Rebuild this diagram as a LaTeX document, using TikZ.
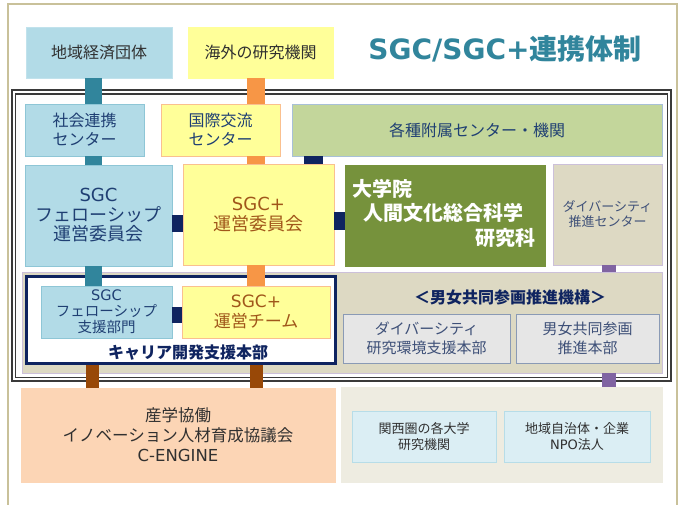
\documentclass[tikz,border=0pt]{standalone}
\usepackage{fontspec}
\setmainfont{Noto Sans CJK JP}
\newfontfamily\lat{DejaVu Sans}
\definecolor{tanborder}{HTML}{C9C19A}
\definecolor{framegray}{HTML}{3A3A3A}
\definecolor{lblue}{HTML}{B2DBE7}
\definecolor{lbluebd}{HTML}{8EC6D6}
\definecolor{lyellow}{HTML}{FFFF99}
\definecolor{lorange}{HTML}{FAC08F}
\definecolor{lgreen}{HTML}{C3D69B}
\definecolor{lgreenbd}{HTML}{A8C0D8}
\definecolor{dgreen}{HTML}{76923C}
\definecolor{tan}{HTML}{DDD9C3}
\definecolor{lpurple}{HTML}{CCC0DA}
\definecolor{purplebar}{HTML}{8064A2}
\definecolor{navy}{HTML}{0F2460}
\definecolor{navytext}{HTML}{1F3F73}
\definecolor{slate}{HTML}{3E5078}
\definecolor{brownt}{HTML}{A0561A}
\definecolor{tealbar}{HTML}{31859C}
\definecolor{orangebar}{HTML}{F79646}
\definecolor{brownbar}{HTML}{984807}
\definecolor{grayfill}{HTML}{E6E6E6}
\definecolor{graybd}{HTML}{8A9AB5}
\definecolor{peach}{HTML}{FCD5B5}
\definecolor{ltan}{HTML}{EEECE1}
\definecolor{pblue}{HTML}{DBEEF4}
\definecolor{pbluebd}{HTML}{B7DDE8}
\definecolor{darktext}{HTML}{303030}
\begin{document}
\begin{tikzpicture}[x=1pt,y=-1pt,
  box/.style={rectangle, inner sep=0pt, align=center, line width=0.8pt},
  bar/.style={line width=#1, line cap=butt},
  fsz/.style 2 args={font=\fontsize{#1}{#2}\selectfont},
]
\useasboundingbox (0,0) rectangle (683,504);
% outer tan border
\draw[tanborder, line width=1.2pt] (8,4) rectangle (677,520);

% title
\node[fsz={28}{32}, text=tealbar] (title) at (505,49) {\bfseries {\lat SGC/SGC+}連携体制};

% top external boxes
\node[box, fill=lblue, draw=lblue!80!white, minimum width=146pt, minimum height=51pt, fsz={16}{19}, text=darktext] (ext1) at (99,52.5) {地域経済団体};
\node[box, fill=lyellow, draw=lyellow, minimum width=145pt, minimum height=51pt, fsz={16}{19}, text=darktext] (ext2) at (260.5,52.5) {海外の研究機関};

% double frame
\draw[framegray, line width=1.1pt] (12,90) rectangle (671,381);
\draw[framegray, line width=1.1pt] (15.5,94) rectangle (667.5,377.5);

% row 1
\node[box, fill=lblue, draw=lbluebd, minimum width=119pt, minimum height=52pt, fsz={16}{19}, text=navytext] (shakai) at (84.5,130) {社会連携\\センター};
\node[box, fill=lyellow, draw=lorange, minimum width=119pt, minimum height=52pt, fsz={16}{19}, text=navytext] (kokusai) at (220.5,130) {国際交流\\センター};
\node[box, fill=lgreen, draw=lgreenbd, minimum width=370pt, minimum height=52pt, fsz={16}{19}, text=navytext] (kakushu) at (477,130) {各種附属センター・機関};

% row 2
\node[box, fill=lblue, draw=lbluebd, minimum width=147pt, minimum height=101pt, fsz={18}{19.5}, text=navytext] (fcomm) at (98.5,215.5) {{\lat SGC}\\フェローシップ\\運営委員会};
\node[box, fill=lyellow, draw=lorange, minimum width=151pt, minimum height=101pt, fsz={18}{20}, text=brownt] (pcomm) at (258.5,214.5) {{\lat SGC+}\\運営委員会};
\node[box, fill=dgreen, draw=dgreen, minimum width=200pt, minimum height=101pt] (grad) at (445,215.5) {};
\node[anchor=west, inner sep=0pt, fsz={20}{24}, text=white] (g1) at (352,189) {\bfseries 大学院};
\node[anchor=west, inner sep=0pt, fsz={20}{24}, text=white] (g2) at (363,213) {\bfseries 人間文化総合科学};
\node[anchor=east, inner sep=0pt, fsz={20}{24}, text=white] (g3) at (536,238) {\bfseries 研究科};
\node[box, fill=tan, draw=lpurple, minimum width=109pt, minimum height=101pt, fsz={13}{15}, text=slate] (divc) at (607.5,214.5) {ダイバーシティ\\推進センター};

% band
\node[box, fill=tan, draw=lpurple, minimum width=640pt, minimum height=101pt] (band) at (342,322.5) {};
\node[box, fill=white, draw=navy, line width=3pt, minimum width=309pt, minimum height=87pt] (career) at (181,320) {};
\node[box, fill=lblue, draw=lbluebd, minimum width=131pt, minimum height=52pt, fsz={14.5}{16}, text=navytext] (fsupp) at (106.5,312) {{\lat SGC}\\フェローシップ\\支援部門};
\node[box, fill=lyellow, draw=lorange, minimum width=148pt, minimum height=52pt, fsz={17}{20}, text=brownt] (pteam) at (256,312) {{\lat SGC+}\\運営チーム};
\node[inner sep=0pt, fsz={16}{18}, text=navy] (careerlbl) at (188,353) {\bfseries キャリア開発支援本部};
\node[inner sep=0pt, fsz={16}{18}, text=navy] (gepo) at (510,297) {\bfseries ＜男女共同参画推進機構＞};
\node[box, fill=grayfill, draw=graybd, minimum width=167pt, minimum height=49pt, fsz={15}{19}, text=slate] (divr) at (426.5,338.5) {ダイバーシティ\\研究環境支援本部};
\node[box, fill=grayfill, draw=graybd, minimum width=143pt, minimum height=49pt, fsz={15}{19}, text=slate] (gep) at (587.5,338.5) {男女共同参画\\推進本部};

% bottom
\node[box, fill=peach, draw=peach, minimum width=314pt, minimum height=94pt, fsz={16.5}{20}, text=darktext] (cengine) at (178,435) {産学協働\\イノベーション人材育成協議会\\{\lat C-ENGINE}};
\node[box, fill=ltan, draw=ltan, minimum width=321pt, minimum height=95pt] (lbox) at (501.5,434.5) {};
\node[box, fill=pblue, draw=pbluebd, minimum width=144pt, minimum height=51pt, fsz={13}{16}, text=darktext] (kansai) at (424,436.5) {関西圏の各大学\\研究機関};
\node[box, fill=pblue, draw=pbluebd, minimum width=146pt, minimum height=51pt, fsz={13}{16}, text=darktext] (local) at (577,436.5) {地域自治体・企業\\{\lat NPO}法人};

% connector x positions
\coordinate (tx) at (93.5,0);
\coordinate (ox) at (256,0);
\coordinate (nx) at (313.5,0);
\coordinate (px) at (609,0);
\coordinate (bx1) at (92.5,0);
\coordinate (bx2) at (256.5,0);
\coordinate (hy1) at (0,223.5);
\coordinate (hy2) at (0,221);
\coordinate (hy3) at (0,315);

% teal bars
\draw[tealbar, bar=17pt] (ext1.south -| tx) -- (shakai.north -| tx);
\draw[tealbar, bar=17pt] (shakai.south -| tx) -- (fcomm.north -| tx);
\draw[tealbar, bar=17pt] (fcomm.south -| tx) -- (fsupp.north -| tx);
% orange bars
\draw[orangebar, bar=18pt] (ext2.south -| ox) -- (kokusai.north -| ox);
\draw[orangebar, bar=18pt] (kokusai.south -| ox) -- (pcomm.north -| ox);
\draw[orangebar, bar=18pt] (pcomm.south -| ox) -- (pteam.north -| ox);
% navy connectors
\draw[navy, bar=19pt] (kakushu.south -| nx) -- (pcomm.north -| nx);
\draw[navy, bar=17pt] (fcomm.east |- hy1) -- (pcomm.west |- hy1);
\draw[navy, bar=18pt] (pcomm.east |- hy2) -- (grad.west |- hy2);
\draw[navy, bar=16pt] (fsupp.east |- hy3) -- (pteam.west |- hy3);
% purple
\draw[purplebar, bar=14pt] (divc.south -| px) -- (band.north -| px);
\draw[purplebar, bar=14pt] (band.south -| px) -- (lbox.north -| px);
% brown
\draw[brownbar, bar=13pt] (career.south -| bx1) -- (cengine.north -| bx1);
\draw[brownbar, bar=13pt] (career.south -| bx2) -- (cengine.north -| bx2);
\end{tikzpicture}
\end{document}
